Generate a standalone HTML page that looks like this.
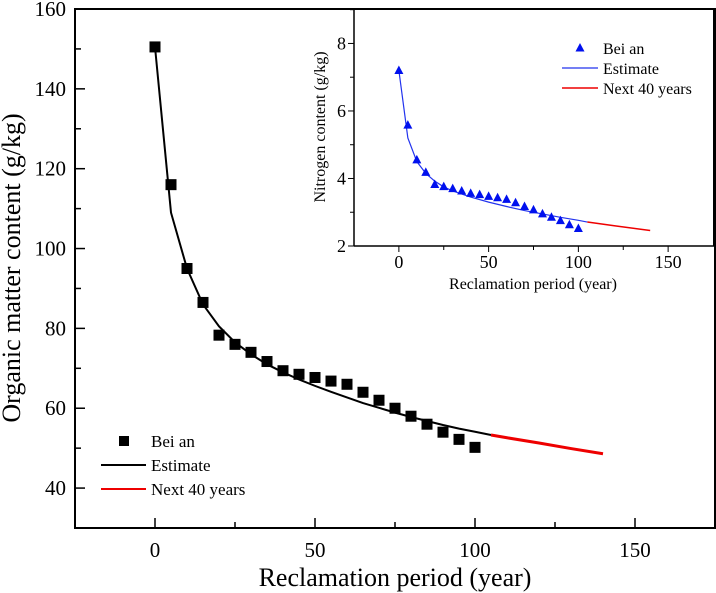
<!DOCTYPE html>
<html><head><meta charset="utf-8"><style>
body{margin:0;background:#fff;}
svg{display:block;font-family:"Liberation Serif",serif;}
</style></head><body>
<svg id="c" width="716" height="593" viewBox="0 0 716 593"></svg>
<script>
const mainX=[0,5,10,15,20,25,30,35,40,45,50,55,60,65,70,75,80,85,90,95,100];
const mainY=[150.5,116,95,86.5,78.3,76,74,71.7,69.4,68.5,67.7,66.8,66,64,62,60,58,56,54,52.2,50.2];
const estX=[0,5,10,15,20,25,30,35,40,45,50,55,60,65,70,75,80,85,90,95,100,105];
const estY=[150.5,109,95,86,80.5,76.5,73.5,71,69,67.2,65.6,64.1,62.7,61.3,60.1,58.9,57.8,56.8,55.8,54.9,54.1,53.3];
const nextX=[105,110,120,130,140];
const nextY=[53.3,52.6,51.3,49.9,48.6];
const xTicks=[0,50,100,150];
const yTicks=[40,60,80,100,120,140,160];
const inX=[0,5,10,15,20,25,30,35,40,45,50,55,60,65,70,75,80,85,90,95,100];
const inY=[7.2,5.58,4.55,4.18,3.82,3.76,3.7,3.63,3.56,3.52,3.47,3.43,3.38,3.28,3.17,3.07,2.95,2.85,2.75,2.63,2.52];
const inEstX=[0,5,10,15,20,25,30,40,50,60,70,80,90,100,105];
const inEstY=[7.2,5.2,4.5,4.15,3.92,3.75,3.63,3.45,3.3,3.17,3.05,2.95,2.85,2.76,2.71];
const inNextX=[105,120,140];
const inNextY=[2.71,2.6,2.46];
const inYTicks=[2,4,6,8];

const NS="http://www.w3.org/2000/svg";
const svg=document.getElementById('c');
function mk(t,a,p){const e=document.createElementNS(NS,t);for(const k in a)e.setAttribute(k,a[k]);(p||svg).appendChild(e);return e;}
const mx=v=>75+(v+25)*(640/200);
const my=v=>528-(v-30)*(519/130);
const gMain=mk('g',{});


mk('rect',{x:75,y:9,width:640,height:519,fill:'none',stroke:'#000','stroke-width':2},gMain);
for(let v=-25;v<=175;v+=25){if(v<=-25||v>=175)continue;const x=mx(v);const major=v%50===0;
 mk('line',{x1:x,y1:528,x2:x,y2:528-(major?10:6),stroke:'#000','stroke-width':1.5},gMain);}
for(const v of xTicks){const t=mk('text',{x:mx(v),y:557,'font-size':21,'text-anchor':'middle'},gMain);t.textContent=v;
 }
for(let v=40;v<=150;v+=10){const y=my(v);const major=v%20===0;
 mk('line',{x1:75,y1:y,x2:75+(major?10:6),y2:y,stroke:'#000','stroke-width':1.5},gMain);}
for(const v of yTicks){const t=mk('text',{x:66,y:my(v)+7,'font-size':21,'text-anchor':'end'},gMain);t.textContent=v;
 }
let t=mk('text',{x:395,y:586,'font-size':26,'text-anchor':'middle'});t.textContent='Reclamation period (year)';

t=mk('text',{x:0,y:0,'font-size':26,'text-anchor':'middle',transform:'translate(20,268) rotate(-90)'});t.textContent='Organic matter content (g/kg)';

let p=mk('polyline',{points:estX.map((x,i)=>mx(x)+','+my(estY[i])).join(' '),fill:'none',stroke:'#000','stroke-width':2});

p=mk('polyline',{points:nextX.map((x,i)=>mx(x)+','+my(nextY[i])).join(' '),fill:'none',stroke:'#e00','stroke-width':3});

mainX.forEach((x,i)=>{const r=mk('rect',{x:mx(x)-5.5,y:my(mainY[i])-5.5,width:11,height:11,fill:'#000'});
 });
const lg=mk('g',{});
mk('rect',{x:119,y:436,width:10,height:10,fill:'#000'},lg);
mk('line',{x1:101,y1:465,x2:146,y2:465,stroke:'#000','stroke-width':2},lg);
mk('line',{x1:101,y1:489,x2:146,y2:489,stroke:'#e00','stroke-width':2},lg);
[['Bei an',447],['Estimate',471],['Next 40 years',495]].forEach(([s,y])=>{const e=mk('text',{x:151,y:y,'font-size':17},lg);e.textContent=s;});

const ix=v=>354+(v+25)*(359/200);
const iy=v=>246-(v-2)*(238/7.05);
const gi=mk('g',{});
mk('rect',{x:354,y:10,width:360,height:236,fill:'#fff'},gi);
mk('line',{x1:354,y1:8,x2:354,y2:246,stroke:'#000','stroke-width':1.5},gi);
mk('line',{x1:354,y1:246,x2:715,y2:246,stroke:'#000','stroke-width':1.5},gi);
mk('line',{x1:354,y1:9,x2:715,y2:9,stroke:'#000','stroke-width':2},gi);
mk('line',{x1:714,y1:9,x2:714,y2:246,stroke:'#000','stroke-width':2},gi);
for(let v=-25;v<175;v+=25){if(v===-25)continue;const x=ix(v);const major=v%50===0;
 mk('line',{x1:x,y1:246,x2:x,y2:246+(major?6:4),stroke:'#000','stroke-width':1},gi);}
for(const v of xTicks){const e=mk('text',{x:ix(v),y:268,'font-size':18,'text-anchor':'middle'},gi);e.textContent=v;
 }
for(let v=2;v<=9;v+=1){const y=iy(v);const major=v%2===0;
 mk('line',{x1:354,y1:y,x2:354-(major?6:4),y2:y,stroke:'#000','stroke-width':1},gi);}
for(const v of inYTicks){const e=mk('text',{x:346,y:iy(v)+6,'font-size':18,'text-anchor':'end'},gi);e.textContent=v;
 }
t=mk('text',{x:533,y:289,'font-size':16,'text-anchor':'middle'},gi);t.textContent='Reclamation period (year)';

t=mk('text',{x:0,y:0,'font-size':16,'text-anchor':'middle',transform:'translate(325,127) rotate(-90)'},gi);t.textContent='Nitrogen content (g/kg)';

p=mk('polyline',{points:inEstX.map((x,i)=>ix(x)+','+iy(inEstY[i])).join(' '),fill:'none',stroke:'#2233ee','stroke-width':1.2},gi);

p=mk('polyline',{points:inNextX.map((x,i)=>ix(x)+','+iy(inNextY[i])).join(' '),fill:'none',stroke:'#e00','stroke-width':1.5},gi);

inX.forEach((x,i)=>{const cx=ix(x),cy=iy(inY[i]);
 const e=mk('polygon',{points:`${cx},${cy-5} ${cx-4.5},${cy+3.5} ${cx+4.5},${cy+3.5}`,fill:'#0010ee'},gi);
 });
const il=mk('g',{},gi);
mk('polygon',{points:'580,43 575.5,51.5 584.5,51.5',fill:'#0010ee'},il);
mk('line',{x1:562,y1:68,x2:598,y2:68,stroke:'#2233ee','stroke-width':1.2},il);
mk('line',{x1:562,y1:88,x2:598,y2:88,stroke:'#e00','stroke-width':1.5},il);
[['Bei an',54],['Estimate',74],['Next 40 years',94]].forEach(([s,y])=>{const e=mk('text',{x:603,y:y,'font-size':16},il);e.textContent=s;});
</script>
</body></html>
